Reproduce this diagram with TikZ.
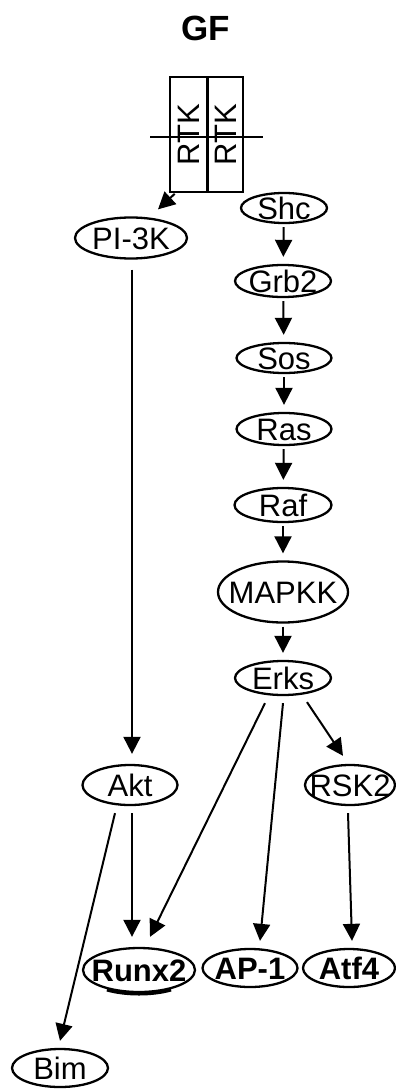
\documentclass[tikz,border=0pt]{standalone}
\usepackage{fontspec}
\setmainfont{Liberation Sans}
\usetikzlibrary{shapes.geometric,arrows.meta,calc}
\newcommand{\tx}[1]{\makebox[0pt][c]{\raisebox{-0.36em}[0pt][0pt]{#1}}}
\tikzset{
  ell/.style={draw, ellipse, line width=2.3pt, inner sep=0pt, font=\fontsize{31}{31}\selectfont},
  bld/.style={ell, font=\fontsize{31}{31}\selectfont\bfseries},
  rtkbox/.style={draw, rectangle, line width=1.6pt, inner sep=0pt, minimum width=35pt, minimum height=115pt, font=\fontsize{31}{31}\selectfont},
  arr/.style={line width=2pt, -{Triangle[length=17pt,width=17pt]}},
  carr/.style={arr, shorten <=3pt, shorten >=7pt}
}
\begin{document}
\begin{tikzpicture}[x=1pt,y=1pt]
\useasboundingbox (0,0) rectangle (396,-1089);
% GF
\node[font=\fontsize{35}{35}\selectfont\bfseries, inner sep=0pt] (gf) at (206,-28) {GF};
% RTK
\node[rtkbox, minimum width=37pt] (rtkA) at (188.7,-134.5) {\rotatebox{90}{\tx{RTK}}};
\node[rtkbox, minimum width=34.5pt] (rtkB) at (225.7,-134.5) {\rotatebox{90}{\tx{RTK}}};
\draw[line width=1.6pt] (150,-137) -- (263,-137);
% left
\node[ell, minimum width=112pt, minimum height=41pt] (pi3k) at (131,-238) {\tx{PI-3K}};
\node[ell, minimum width=95pt, minimum height=40pt] (akt) at (130,-785) {\tx{Akt}};
% right column
\node[ell, minimum width=86pt, minimum height=30pt] (shc) at (284,-208) {\tx{Shc}};
\node[ell, minimum width=96pt, minimum height=32pt] (grb2) at (283,-281) {\tx{Grb2}};
\node[ell, minimum width=95pt, minimum height=30pt] (sos) at (284,-358) {\tx{Sos}};
\node[ell, minimum width=95pt, minimum height=32pt] (ras) at (284,-429) {\tx{Ras}};
\node[ell, minimum width=97pt, minimum height=34pt] (raf) at (283,-505) {\tx{Raf}};
\node[ell, minimum width=130pt, minimum height=61pt] (mapkk) at (283,-592) {\tx{MAPKK}};
\node[ell, minimum width=96pt, minimum height=34pt] (erks) at (283,-678) {\tx{Erks}};
\node[ell, minimum width=90pt, minimum height=40pt] (rsk2) at (350,-785) {\tx{RSK2}};
% bottom row
\node[bld, minimum width=112pt, minimum height=44pt] (runx2) at (139,-970) {\tx{Runx2}};
\draw[line width=3pt] ([yshift=-2pt]runx2.center) ++(235:56pt and 22pt) arc[start angle=235, end angle=305, x radius=56pt, y radius=22pt];
\node[bld, minimum width=95pt, minimum height=38pt] (ap1) at (250,-968) {\tx{AP-1}};
\node[bld, minimum width=92pt, minimum height=38pt] (atf4) at (349,-968) {\tx{Atf4}};
\node[ell, minimum width=96pt, minimum height=38pt] (bim) at (60,-1068) {\tx{Bim}};
% connectors
\draw[arr] ([xshift=-14pt,yshift=-1pt]rtkA.south) -- ([xshift=27pt,yshift=7pt]pi3k.north);
\draw[carr] (shc) -- (grb2);
\draw[carr] (grb2) -- (sos);
\draw[carr] (sos) -- (ras);
\draw[carr] (ras) -- (raf);
\draw[carr] (raf) -- (mapkk);
\draw[carr] (mapkk) -- (erks);
\draw[arr] ([xshift=1pt,yshift=-10pt]pi3k.south) -- ([xshift=2pt,yshift=10pt]akt.north);
\draw[arr] ([xshift=-18pt,yshift=-7pt]erks.south) -- ([xshift=11pt,yshift=10pt]runx2.north);
\draw[arr] ([yshift=-7pt]erks.south) -- ([xshift=10pt,yshift=7pt]ap1.north);
\draw[arr] ([xshift=24pt,yshift=-6pt]erks.south) -- ([xshift=-7pt,yshift=8pt]rsk2.north);
\draw[arr] ([xshift=2pt,yshift=-7pt]akt.south) -- ([xshift=-7pt,yshift=10pt]runx2.north);
\draw[arr] ([xshift=-15pt,yshift=-7pt]akt.south) -- ([yshift=7pt]bim.north);
\draw[arr] ([xshift=-2pt,yshift=-7pt]rsk2.south) -- ([xshift=3pt,yshift=7pt]atf4.north);
\end{tikzpicture}
\end{document}
